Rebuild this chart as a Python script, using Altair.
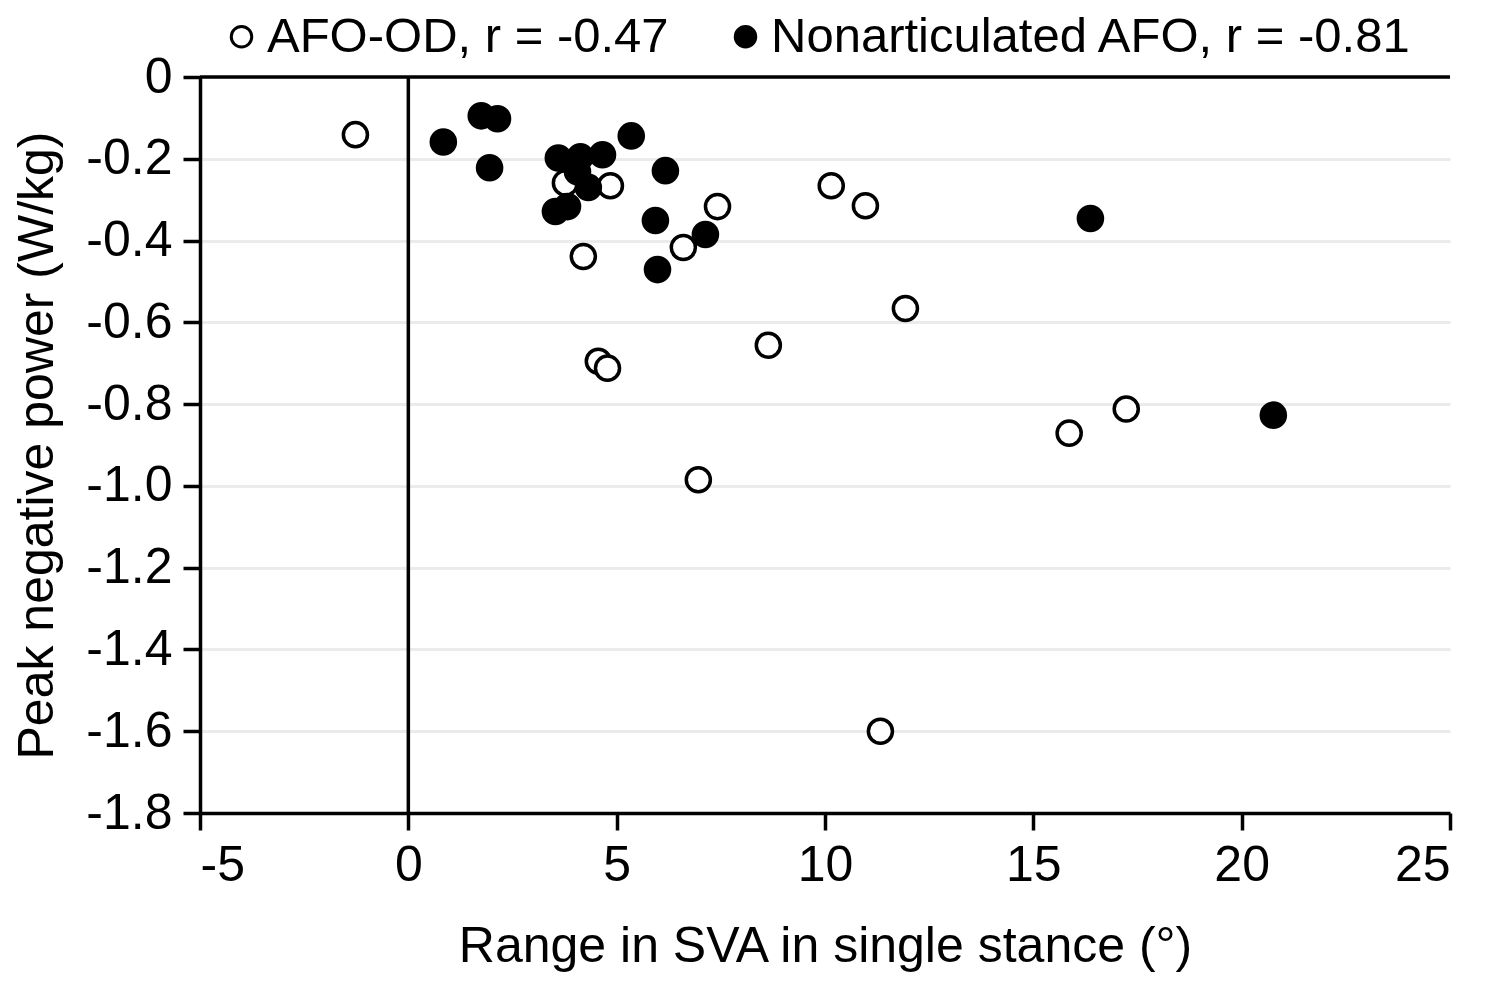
import altair as alt
import pandas as pd

# Data
afo_od_x = [-1.27, 3.77, 4.2, 4.56, 4.78, 4.85, 6.6, 7.42, 6.96, 8.64, 10.15, 10.97, 11.93, 11.33, 15.86, 17.23]
afo_od_y = [-0.141, -0.259, -0.439, -0.695, -0.712, -0.266, -0.417, -0.317, -0.985, -0.656, -0.266, -0.315, -0.566, -1.60, -0.871, -0.812]

nonart_x = [0.84, 1.75, 2.14, 1.95, 3.6, 4.13, 4.66, 4.06, 4.32, 3.53, 3.82, 5.35, 6.17, 5.93, 5.98, 7.13, 16.37, 20.76]
nonart_y = [-0.159, -0.095, -0.102, -0.222, -0.198, -0.195, -0.19, -0.232, -0.27, -0.329, -0.317, -0.144, -0.229, -0.351, -0.471, -0.385, -0.346, -0.827]

series_names = ["AFO-OD, r = -0.47", "Nonarticulated AFO, r = -0.81"]
x_ticks = [-5, 0, 5, 10, 15, 20, 25]
y_ticks = [0, -0.2, -0.4, -0.6, -0.8, -1.0, -1.2, -1.4, -1.6, -1.8]

rows = []
for xv, yv in zip(afo_od_x, afo_od_y):
    rows.append({"series": series_names[0], "x": xv, "y": yv, "ord": 0})
for xv, yv in zip(nonart_x, nonart_y):
    rows.append({"series": series_names[1], "x": xv, "y": yv, "ord": 1})
df = pd.DataFrame(rows)

FONT = "Liberation Sans"
FS = 50
LW = 3.5

xscale = alt.Scale(domain=[-5, 25], nice=False, zero=False)
yscale = alt.Scale(domain=[-1.8, 0], nice=False, zero=False)

points = alt.Chart(df).mark_point(
    shape="circle", filled=True, size=580, stroke="black", strokeWidth=3.5, opacity=1
).encode(
    x=alt.X("x:Q", scale=xscale,
            axis=alt.Axis(values=x_ticks, title="Range in SVA in single stance (°)",
                          labelExpr="datum.value < 0 ? '-' + format(-datum.value, 'd') : format(datum.value, 'd')",
                          grid=False, domainColor="black", domainWidth=LW, tickColor="black",
                          tickWidth=LW, tickSize=17, labelPadding=10, labelFontSize=FS,
                          labelFont=FONT, labelColor="black", titleFont=FONT, titleFontSize=FS,
                          titleFontWeight="normal", titleColor="black",
                          titleY=133, titleBaseline="middle")),
    y=alt.Y("y:Q", scale=yscale,
            axis=alt.Axis(values=y_ticks, title="Peak negative power (W/kg)",
                          labelExpr="datum.value == 0 ? '0' : '-' + format(-datum.value, '.1f')",
                          grid=True, gridColor="#ebebeb", gridWidth=3,
                          domainColor="black", domainWidth=LW, tickColor="black",
                          tickWidth=LW, tickSize=17, labelPadding=11, labelFontSize=FS,
                          labelFont=FONT, labelColor="black", titleFont=FONT, titleFontSize=FS,
                          titleFontWeight="normal", titleColor="black",
                          titleX=-163, titleY=368, titleBaseline="middle", titleAlign="center",
                          titleAngle=270)),
    fill=alt.Fill("series:N", scale=alt.Scale(domain=series_names, range=["white", "black"]),
                  legend=alt.Legend(title=None, orient="none", direction="horizontal",
                                    legendX=17, legendY=-65, labelFont=FONT, labelFontSize=49,
                                    labelColor="black", symbolType="circle", symbolSize=420,
                                    symbolStrokeColor="black", symbolStrokeWidth=3,
                                    symbolOpacity=1, labelOffset=1, columnPadding=52,
                                    padding=0, labelLimit=900)),
    order=alt.Order("ord:Q"),
)

hrule_df = pd.DataFrame({"x": [-5], "x2": [25], "y": [0]})
hrule = alt.Chart(hrule_df).mark_rule(color="black", strokeWidth=LW).encode(
    x=alt.X("x:Q", scale=xscale), x2="x2:Q", y=alt.Y("y:Q", scale=yscale)
)
vrule_df = pd.DataFrame({"x": [0], "y": [0], "y2": [-1.8]})
vrule = alt.Chart(vrule_df).mark_rule(color="black", strokeWidth=LW).encode(
    x=alt.X("x:Q", scale=xscale), y=alt.Y("y:Q", scale=yscale), y2="y2:Q"
)

chart = alt.layer(hrule, vrule, points).properties(
    width=1250, height=736,
    autosize=alt.AutoSizeParams(type="none"),
    padding={"left": 192, "top": 69, "right": 30, "bottom": 160},
    background="white",
).configure_view(stroke=None)

chart.save("out.html", embed_options={"renderer": "svg", "actions": False})
